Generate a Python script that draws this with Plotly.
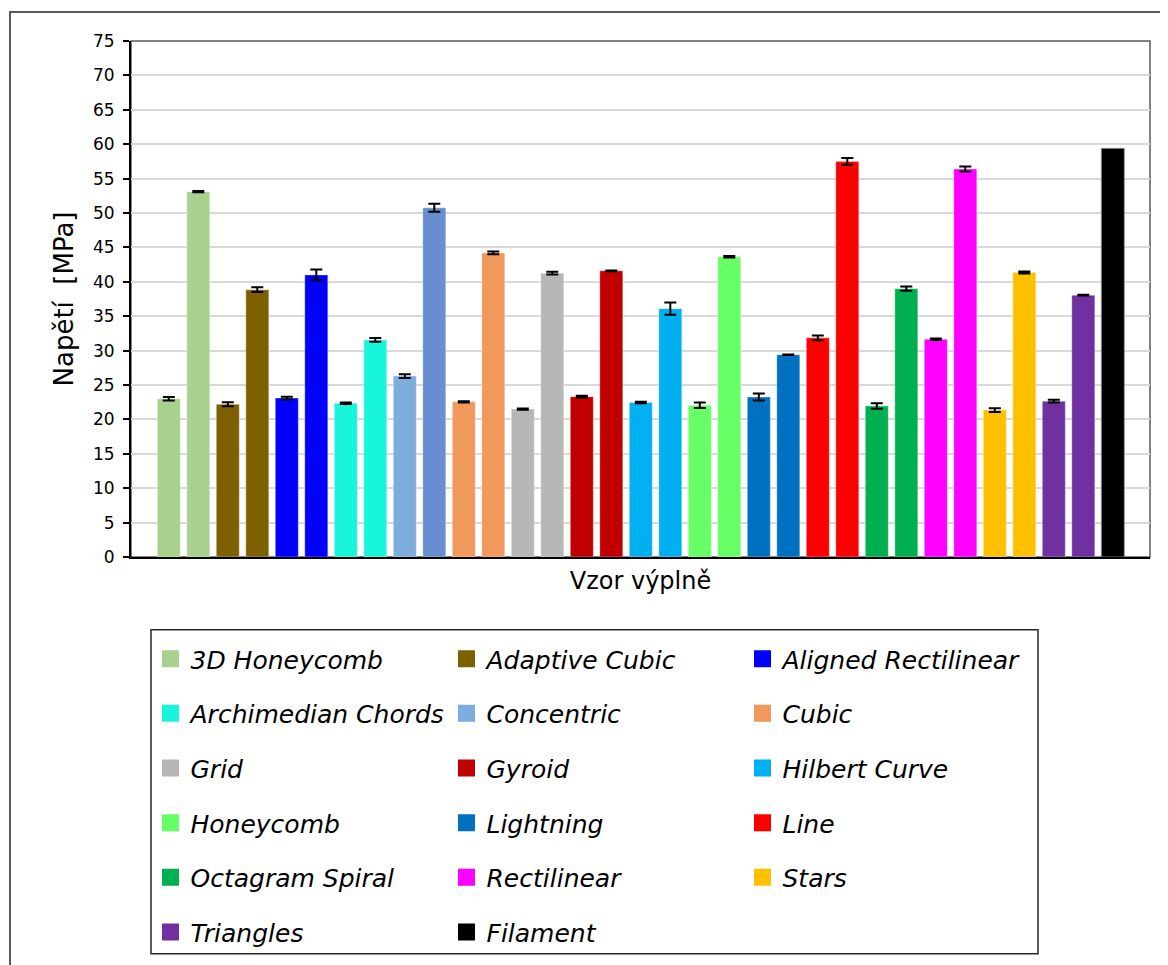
import plotly.graph_objects as go

# ---------------- data ----------------
categories = ["3D Honeycomb", "Adaptive Cubic", "Aligned Rectilinear",
              "Archimedian Chords", "Concentric", "Cubic",
              "Grid", "Gyroid", "Hilbert Curve",
              "Honeycomb", "Lightning", "Line",
              "Octagram Spiral", "Rectilinear", "Stars",
              "Triangles"]
first_vals = [23.0, 22.2, 23.1, 22.35, 26.3, 22.55, 21.5, 23.3, 22.45,
              22.05, 23.25, 31.85, 21.95, 31.65, 21.35, 22.65]
first_err = [0.25, 0.3, 0.2, 0.1, 0.27, 0.1, 0.08, 0.12, 0.1,
             0.4, 0.5, 0.34, 0.4, 0.1, 0.28, 0.2]
second_vals = [53.1, 38.85, 41.0, 31.55, 50.75, 44.2, 41.25, 41.6, 36.1,
               43.65, 29.4, 57.5, 39.0, 56.4, 41.35, 38.05]
second_err = [0.1, 0.35, 0.78, 0.27, 0.58, 0.2, 0.2, 0.05, 0.9,
              0.1, 0.05, 0.5, 0.3, 0.36, 0.15, 0.05]
first_colors = ["#A9D18E", "#7F6000", "#0000FF", "#19F5DA", "#7DADDD", "#F1985C",
                "#B7B7B7", "#C00000", "#00B0F0", "#66FF66", "#0070C0", "#FF0000",
                "#00B050", "#FF00FF", "#FFC000", "#7030A0"]
second_colors = ["#A9D18E", "#7F6000", "#0000FF", "#19F5DA", "#698ECF", "#F1985C",
                 "#B7B7B7", "#C00000", "#00B0F0", "#66FF66", "#0070C0", "#FF0000",
                 "#00B050", "#FF00FF", "#FFC000", "#7030A0"]
filament_name = "Filament"
filament_val = 59.4
filament_color = "#000000"

y_title = "Napětí  [MPa]"
x_title = "Vzor výplně"

# ---------------- layout geometry ----------------
# the page body adds an 8px margin, so the figure is 8px smaller and all
# reference pixel positions are shifted by that offset
OFF = 8
W, H = 1168 - OFF, 965 - OFF
L, R, T, B = 131 - OFF, 1150 - OFF, 41 - OFF, 558 - OFF
PW, PH = R - L, B - T


def px_x(p):
    return (p - OFF - L) / PW


def px_y(p):
    return (B - (p - OFF)) / PH


FONT = "DejaVu Sans"
BAR_W = 0.78

fig = go.Figure()
legend_ids = ["legend", "legend2", "legend3", "legend4", "legend5", "legend6"]

for i, cat in enumerate(categories):
    fig.add_trace(go.Bar(
        name=cat,
        x=[2 * i, 2 * i + 1],
        y=[first_vals[i], second_vals[i]],
        width=BAR_W,
        marker=dict(color=[first_colors[i], second_colors[i]],
                    line=dict(color="rgba(255,255,255,0.35)", width=1)),
        error_y=dict(type="data", array=[first_err[i], second_err[i]],
                     color="black", thickness=2, width=6),
        showlegend=False,
        hovertemplate=cat + ": %{y}<extra></extra>",
    ))

fig.add_trace(go.Bar(
    name=filament_name,
    x=[2 * len(categories)],
    y=[filament_val],
    width=BAR_W,
    marker=dict(color=filament_color, line=dict(color="rgba(150,150,150,0.8)", width=1)),
    showlegend=False,
    hovertemplate=filament_name + ": %{y}<extra></extra>",
))

# legend entries (swatches drawn by the legend itself)
legend_names = categories + [filament_name]
legend_colors = first_colors + [filament_color]
for i, (nm, col) in enumerate(zip(legend_names, legend_colors)):
    fig.add_trace(go.Bar(
        name=nm, x=[None], y=[None],
        marker=dict(color=col, line=dict(color=col, width=5)),
        legend=legend_ids[i // 3], showlegend=True, hoverinfo="skip",
    ))

pitch = 29.5
first_center = 168.8
x_range = [(131 - first_center) / pitch, (1150 - first_center) / pitch]

row_centers = [659, 713.5, 768.2, 823, 877.6, 932.2]
legend_layout = {}
for k, lid in enumerate(legend_ids):
    legend_layout[lid] = dict(
        orientation="h",
        x=px_x(150.5), xanchor="left",
        y=px_y(row_centers[k]), yanchor="middle",
        entrywidth=251, entrywidthmode="pixels",
        bgcolor="rgba(0,0,0,0)", borderwidth=0,
        font=dict(family=FONT, size=25, color="black", style="italic"),
        traceorder="normal",
    )

fig.update_layout(
    width=W, height=H,
    margin=dict(l=L, r=W - R, t=T, b=H - B, pad=0),
    paper_bgcolor="white", plot_bgcolor="white",
    barmode="overlay",
    font=dict(family=FONT, color="black"),
    showlegend=True,
    **legend_layout,
    xaxis=dict(range=x_range, showticklabels=False, ticks="", showgrid=False,
               zeroline=False, showline=True, linecolor="black", linewidth=2,
               title=dict(text=x_title, font=dict(family=FONT, size=24, color="black"),
                          standoff=14),
               fixedrange=True),
    yaxis=dict(range=[0, 75], dtick=5, tick0=0, showgrid=True, gridcolor="#D9D9D9",
               gridwidth=1.5, zeroline=False, showline=True, linecolor="black",
               linewidth=2, ticks="outside", ticklen=6, tickwidth=1.5, tickcolor="black",
               ticklabelstandoff=5,
               tickfont=dict(family=FONT, size=17, color="black"),
               title=dict(text=y_title, font=dict(family=FONT, size=26, color="black"),
                          standoff=12),
               fixedrange=True),
    shapes=[
        # plot area frame (top/right in gray)
        dict(type="rect", xref="paper", yref="paper", x0=0, x1=1, y0=0, y1=1,
             line=dict(color="#595959", width=1.5), layer="below"),
        # legend box
        dict(type="rect", xref="paper", yref="paper",
             x0=px_x(151), x1=px_x(1038), y0=px_y(955.5), y1=px_y(631),
             line=dict(color="#262626", width=1.5)),
        # outer chart frame
        dict(type="rect", xref="paper", yref="paper",
             x0=px_x(10), x1=px_x(1180), y0=px_y(985), y1=px_y(12),
             line=dict(color="#595959", width=2)),
    ],
)

fig.write_html("out.html")
